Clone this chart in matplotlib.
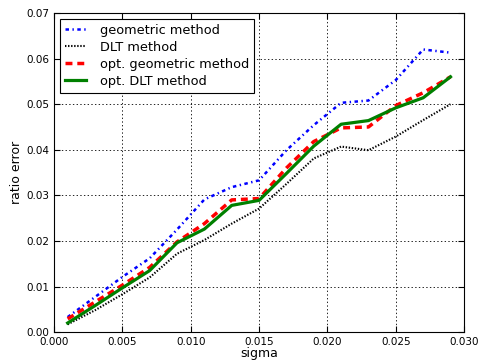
import numpy as np
import matplotlib
matplotlib.use('Agg')
import matplotlib.pyplot as plt

# Data
sigma = [0.001, 0.003, 0.005, 0.007, 0.009, 0.011, 0.013, 0.015,
         0.017, 0.019, 0.021, 0.023, 0.025, 0.027, 0.029]
geometric = [0.0033, 0.0077, 0.0121, 0.0162, 0.0225, 0.0291, 0.0318, 0.0333,
             0.0399, 0.0454, 0.0503, 0.0508, 0.0553, 0.0620, 0.0613]
dlt = [0.0017, 0.0048, 0.0083, 0.0120, 0.0172, 0.0202, 0.0238, 0.0271,
       0.0325, 0.0381, 0.0407, 0.0399, 0.0429, 0.0465, 0.0500]
opt_geometric = [0.0029, 0.0066, 0.0103, 0.0142, 0.0198, 0.0238, 0.0290, 0.0293,
                 0.0360, 0.0418, 0.0448, 0.0450, 0.0497, 0.0525, 0.0560]
opt_dlt = [0.0020, 0.0058, 0.0097, 0.0135, 0.0196, 0.0226, 0.0278, 0.0289,
           0.0348, 0.0408, 0.0456, 0.0464, 0.0492, 0.0514, 0.0560]

plt.rcParams['font.family'] = 'DejaVu Sans'
plt.rcParams['font.size'] = 7.5
plt.rcParams['lines.scale_dashes'] = False

fig = plt.figure(figsize=(4.82, 3.61), dpi=100)
ax = fig.add_axes([0.112, 0.080, 0.851, 0.884])

ax.plot(sigma, geometric, color='blue', lw=1.8, dashes=(2.5, 2.5, 1, 2.5),
        label='geometric method')
ax.plot(sigma, dlt, color='black', lw=1.5, dashes=(1, 1.2), label='DLT method')
ax.plot(sigma, opt_geometric, color='red', lw=2.5, dashes=(5, 3.5),
        label='opt. geometric method')
ax.plot(sigma, opt_dlt, linestyle='-', color='green', lw=2.3, label='opt. DLT method')

ax.set_xlim(0, 0.030)
ax.set_ylim(0, 0.07)
ax.set_xticks(np.arange(0, 0.0301, 0.005))
ax.set_yticks(np.arange(0, 0.0701, 0.01))
ax.xaxis.set_major_formatter(matplotlib.ticker.FormatStrFormatter('%.3f'))
ax.yaxis.set_major_formatter(matplotlib.ticker.FormatStrFormatter('%.2f'))
ax.tick_params(direction='in', top=True, right=True, length=4, width=0.8, labelsize=7.5)
ax.grid(True, linestyle=':', color='black', lw=0.6)
ax.set_xlabel('sigma', fontsize=9, labelpad=0)
ax.set_ylabel('ratio error', fontsize=9, labelpad=2)

leg = ax.legend(loc='upper left', fontsize=9.3, fancybox=False, framealpha=1,
                edgecolor='black', handlelength=1.6, handletextpad=1.1,
                labelspacing=0.3, borderpad=0.4, borderaxespad=0.45)
leg.get_frame().set_linewidth(0.8)

fig.savefig('out.png', dpi=100)
